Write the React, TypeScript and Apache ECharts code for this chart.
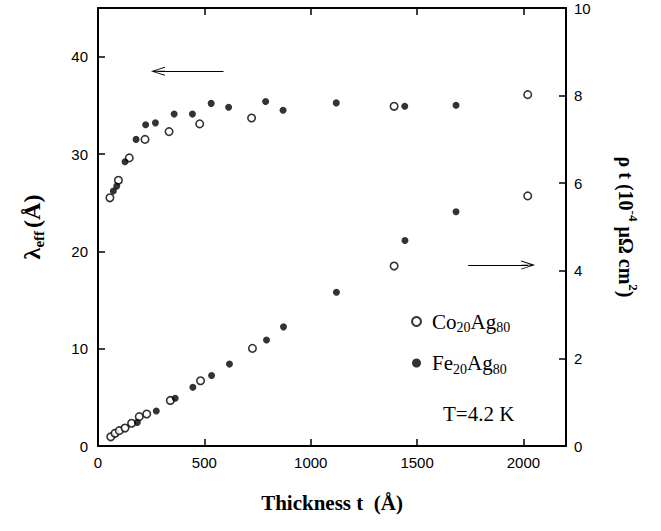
import React, { useEffect, useRef } from "react";
import * as echarts from "echarts";

const xTicks = [0, 500, 1000, 1500, 2000];
const leftTicks = [0, 10, 20, 30, 40];
const rightTicks = [0, 2, 4, 6, 8, 10];

// lambda_eff (left axis)
const tCoLam = [56, 96, 147, 221, 334, 478, 722, 1392, 2020];
const lamCo = [25.5, 27.3, 29.6, 31.5, 32.3, 33.1, 33.7, 34.9, 36.1];
const tFeLam = [72, 88, 127, 179, 224, 270, 358, 444, 532, 614, 788, 870, 1120, 1442, 1683];
const lamFe = [26.2, 26.7, 29.2, 31.5, 33.0, 33.2, 34.1, 34.1, 35.2, 34.8, 35.4, 34.5, 35.25, 34.9, 35.0];

// rho t (right axis)
const tCoRho = [60, 80, 100, 127, 158, 194, 229, 340, 482, 726, 1392, 2020];
const rhoCo = [0.21, 0.29, 0.35, 0.41, 0.52, 0.67, 0.73, 1.04, 1.49, 2.23, 4.11, 5.71];
const tFeRho = [185, 274, 363, 446, 534, 618, 792, 872, 1121, 1443, 1683];
const rhoFe = [0.54, 0.8, 1.09, 1.34, 1.61, 1.87, 2.42, 2.72, 3.51, 4.69, 5.35];

const X_MAX = 2200;
const L_MAX = 45;

const arrowPath =
  "path://M5,0 L10,12 L9,12 L5.5,3.5 L5.5,12 L4.5,12 L4.5,3.5 L1,12 L0,12 Z";

const pairs = (xs: number[], ys: number[]) => xs.map((x, i) => [x, ys[i]]);
const only = (list: number[]) => (v: number) => (list.indexOf(v) >= 0 ? String(v) : "");

export default function App() {
  const ref = useRef<HTMLDivElement>(null);
  useEffect(() => {
    document.body.style.margin = "0";
    const chart = echarts.init(ref.current!, null, { renderer: "svg" });
    const openStyle = { color: "#fff", borderColor: "#000", borderWidth: 1.6 };
    const filledStyle = { color: "#000" };
    const mkLine = () => ({ show: true, onZero: false, lineStyle: { color: "#000", width: 2 } });
    const mkTick = () => ({
      show: true,
      inside: true,
      length: 7,
      lineStyle: { color: "#000", width: 1.5 },
    });
    const labelFont = () => ({ color: "#000", fontFamily: "Liberation Sans", fontSize: 15 });
    const titleFont = () => ({ fontFamily: "Liberation Serif", fontWeight: "bold", color: "#000" });
    const arrowLine = (from: number[], to: number[]) => ({
      silent: true,
      symbol: ["none", arrowPath],
      symbolSize: [9, 14],
      label: { show: false },
      lineStyle: { color: "#000", width: 1.2, type: "solid" },
      data: [[{ coord: from }, { coord: to }]],
    });
    chart.setOption({
      animation: false,
      grid: { left: 98, right: 95, top: 8, bottom: 85 },
      xAxis: [
        {
          type: "value",
          position: "bottom",
          min: 0,
          max: X_MAX,
          interval: 500,
          axisLine: mkLine(),
          axisTick: mkTick(),
          axisLabel: { ...labelFont(), margin: 9, formatter: only(xTicks), showMaxLabel: false },
          splitLine: { show: false },
          name: "Thickness t  (Å)",
          nameLocation: "middle",
          nameGap: 46,
          nameTextStyle: { ...titleFont(), fontSize: 21 },
        },
        {
          type: "value",
          position: "top",
          min: 0,
          max: X_MAX,
          interval: 500,
          axisLine: mkLine(),
          axisTick: mkTick(),
          axisLabel: { show: false },
          splitLine: { show: false },
        },
      ],
      yAxis: [
        {
          type: "value",
          position: "left",
          min: 0,
          max: L_MAX,
          interval: 10,
          axisLine: mkLine(),
          axisTick: mkTick(),
          axisLabel: { ...labelFont(), margin: 10, formatter: only(leftTicks), showMaxLabel: false },
          splitLine: { show: false },
          name: "{l|λ}{s|eff} {l|(Å)}",
          nameLocation: "middle",
          nameRotate: 90,
          nameGap: 52,
          nameTextStyle: {
            ...titleFont(),
            rich: {
              l: { ...titleFont(), fontSize: 24, lineHeight: 28 },
              s: { ...titleFont(), fontSize: 15, lineHeight: 15, verticalAlign: "bottom" },
            },
          },
        },
        {
          type: "value",
          position: "right",
          min: 0,
          max: 10,
          interval: 2,
          axisLine: mkLine(),
          axisTick: mkTick(),
          axisLabel: { ...labelFont(), margin: 8, formatter: only(rightTicks) },
          splitLine: { show: false },
          name: "{l|ρ t (10}{u|-4}{l| μΩ cm}{u|2}{l|)}",
          nameLocation: "middle",
          nameRotate: -90,
          nameGap: 46,
          nameTextStyle: {
            ...titleFont(),
            rich: {
              l: { ...titleFont(), fontSize: 20, lineHeight: 28 },
              u: { ...titleFont(), fontSize: 13, lineHeight: 13, verticalAlign: "top" },
            },
          },
        },
      ],
      legend: {
        orient: "vertical",
        left: 406,
        top: 306,
        itemWidth: 9,
        itemHeight: 9,
        itemGap: 18,
        data: [
          { name: "Co", icon: "circle" },
          { name: "Fe", icon: "circle" },
        ],
        formatter: (n: string) =>
          n === "Co" ? "{m|Co}{s|20}{m|Ag}{s|80}" : "{m|Fe}{s|20}{m|Ag}{s|80}",
        textStyle: {
          color: "#000",
          padding: [0, 0, 0, 6],
          rich: {
            m: { fontFamily: "Liberation Serif", fontSize: 21, lineHeight: 26, color: "#000" },
            s: {
              fontFamily: "Liberation Serif",
              fontSize: 14,
              lineHeight: 14,
              color: "#000",
              verticalAlign: "bottom",
            },
          },
        },
      },
      series: [
        {
          name: "Co",
          type: "scatter",
          xAxisIndex: 0,
          yAxisIndex: 0,
          symbol: "circle",
          symbolSize: 7.5,
          itemStyle: openStyle,
          data: pairs(tCoLam, lamCo),
          markLine: arrowLine([590, 38.5], [282, 38.5]),
        },
        {
          name: "Fe",
          type: "scatter",
          xAxisIndex: 0,
          yAxisIndex: 0,
          symbol: "circle",
          symbolSize: 7,
          itemStyle: filledStyle,
          data: pairs(tFeLam, lamFe),
        },
        {
          name: "Co",
          type: "scatter",
          xAxisIndex: 1,
          yAxisIndex: 1,
          symbol: "circle",
          symbolSize: 7.5,
          itemStyle: openStyle,
          data: pairs(tCoRho, rhoCo),
          markLine: arrowLine([1740, 4.13], [2022, 4.13]),
        },
        {
          name: "Fe",
          type: "scatter",
          xAxisIndex: 1,
          yAxisIndex: 1,
          symbol: "circle",
          symbolSize: 7,
          itemStyle: filledStyle,
          data: pairs(tFeRho, rhoFe),
        },
      ],
    });
    // frame edges (through the chart's own scales) and the temperature note
    const p0 = chart.convertToPixel({ xAxisIndex: 0, yAxisIndex: 0 }, [0, 0]) as number[];
    const p1 = chart.convertToPixel({ xAxisIndex: 0, yAxisIndex: 0 }, [X_MAX, L_MAX]) as number[];
    const frame = { stroke: "#000", lineWidth: 2 };
    chart.setOption({
      graphic: [
        { type: "line", z: 100, shape: { x1: p0[0], y1: p1[1], x2: p1[0], y2: p1[1] }, style: frame },
        { type: "line", z: 100, shape: { x1: p1[0], y1: p1[1], x2: p1[0], y2: p0[1] }, style: frame },
        {
          type: "text",
          left: 443,
          top: 403,
          style: {
            text: "T=4.2 K",
            fontFamily: "Liberation Serif",
            fontSize: 21,
            fill: "#000",
          },
        },
      ],
    });
    return () => chart.dispose();
  }, []);
  return <div ref={ref} style={{ width: 661, height: 531 }} />;
}
